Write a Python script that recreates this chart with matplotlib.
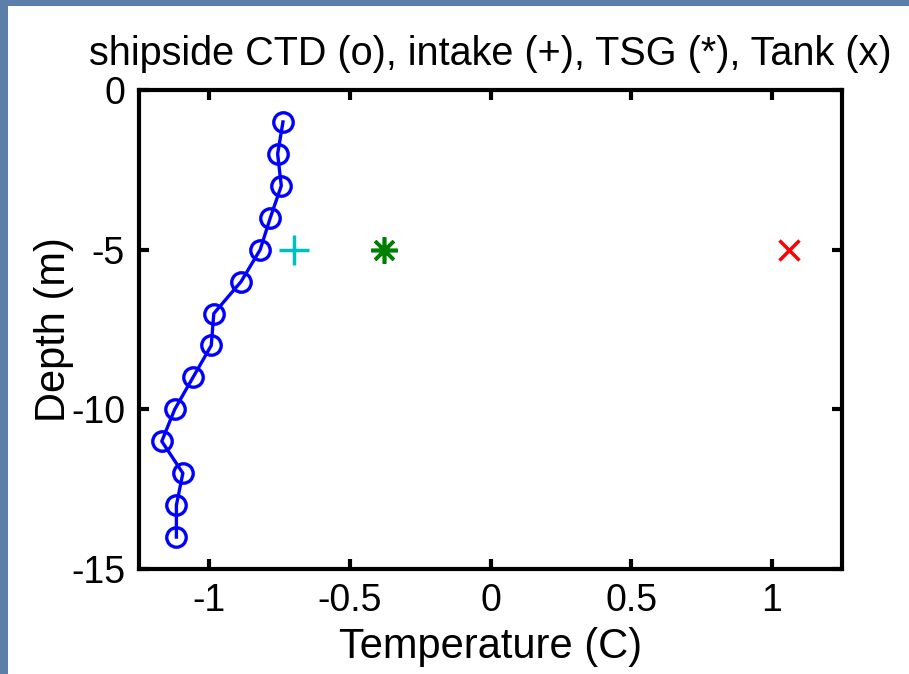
import matplotlib

matplotlib.use("Agg")
import matplotlib.pyplot as plt
from matplotlib.patches import Rectangle

# shipside CTD profile
ctd_depth = [-1, -2, -3, -4, -5, -6, -7, -8, -9, -10, -11, -12, -13, -14]
ctd_temp = [-0.738, -0.757, -0.744, -0.783, -0.819, -0.887, -0.984,
            -0.993, -1.058, -1.123, -1.169, -1.094, -1.117, -1.117]

# single samples at 5 m
intake_depth, intake_temp = [-5], [-0.70]
tsg_depth, tsg_temp = [-5], [-0.378]
tank_depth, tank_temp = [-5], [1.063]

x_ticks = [-1, -0.5, 0, 0.5, 1]
x_labels = ["-1", "-0.5", "0", "0.5", "1"]
y_ticks = [0, -5, -10, -15]

plt.rcParams["font.family"] = ["Liberation Sans", "DejaVu Sans"]
plt.rcParams["axes.unicode_minus"] = False

W, H = 909, 674
fig = plt.figure(figsize=(W / 100, H / 100), dpi=100, facecolor="#5b7fa8")
# white slide area, blue strip at left and top
fig.patches.append(Rectangle((8 / W, 0), 1, (H - 6) / H, transform=fig.transFigure,
                             facecolor="white", edgecolor="none", zorder=-10))

ax = fig.add_axes([139 / W, 1 - 569 / H, (842 - 139) / W, (569 - 90) / H])
ax.set_zorder(5)
ax.plot(ctd_temp, ctd_depth, "-o", color="#0000ff", lw=2.4, ms=14,
        mfc="none", mew=2.4)
ax.plot(intake_temp, intake_depth, "+", color="#00bfbf", ms=21, mew=2.5)
ax.plot(tsg_temp, tsg_depth, marker=(8, 2, 0), ls="none", color="#008000",
        ms=19, mew=2.6)
ax.plot(tank_temp, tank_depth, "x", color="#ff0000", ms=14, mew=2.5)

ax.set_xlim(-1.25, 1.25)
ax.set_ylim(-15, 0)
ax.set_xticks(x_ticks)
ax.set_xticklabels(x_labels)
ax.set_yticks(y_ticks)
ax.tick_params(direction="in", length=7, width=3, labelsize=27, top=True,
               right=True, pad=10)
for s in ax.spines.values():
    s.set_linewidth(3)

ax.set_title("shipside CTD (o), intake (+), TSG (*), Tank (x)", fontsize=28.5, pad=18)
ax.set_xlabel("Temperature (C)", fontsize=30, labelpad=6)
ax.set_ylabel("Depth (m)", fontsize=30, labelpad=-2)

fig.savefig("out.png", dpi=100, facecolor=fig.get_facecolor())
